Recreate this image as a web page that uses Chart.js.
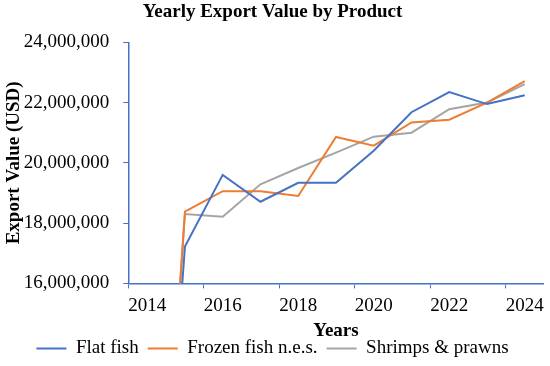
<!DOCTYPE html>
<html>
<head>
<meta charset="utf-8">
<script src="https://cdn.jsdelivr.net/npm/chart.js@4/dist/chart.umd.min.js"></script>
<style>
  html, body { margin: 0; padding: 0; background: #fff; }
  #wrap { width: 550px; height: 366px; }
</style>
</head>
<body>
<div id="wrap"><canvas id="myChart"></canvas></div>
<script>
const years = ['2014', '2015', '2016', '2017', '2018', '2019', '2020', '2021', '2022', '2023', '2024'];
const flatFish = [0, 17220000, 19600000, 18710000, 19340000, 19340000, 20400000, 21680000, 22350000, 21950000, 22240000];
const frozenFish = [0, 18380000, 19060000, 19060000, 18900000, 20860000, 20570000, 21340000, 21430000, 22000000, 22710000];
const shrimps = [0, 18300000, 18210000, 19290000, 19830000, 20340000, 20870000, 21000000, 21780000, 22000000, 22610000];
const yTicks = [16000000, 18000000, 20000000, 22000000, 24000000];

const axisBlue = '#4472C4';
const serif = 'Liberation Serif';

const ctx = document.getElementById('myChart').getContext('2d');

function series(label, data, color) {
    return {
        label: label,
        data: data,
        borderColor: color,
        backgroundColor: color,
        borderWidth: 2,
        pointRadius: 0,
        pointHoverRadius: 0,
        tension: 0
    };
}

new Chart(ctx, {
    type: 'line',
    data: {
        labels: years,
        datasets: [
            series('Flat fish', flatFish, '#4472C4'),
            series('Frozen fish n.e.s.', frozenFish, '#ED7D31'),
            series('Shrimps & prawns', shrimps, '#A5A5A5')
        ]
    },
    options: {
        responsive: true,
        maintainAspectRatio: false,
        animation: false,
        layout: { padding: { left: 0, right: 5, top: 0, bottom: -2 } },
        plugins: {
            title: {
                display: true,
                text: 'Yearly Export Value by Product',
                color: '#000',
                font: { family: serif, size: 19, weight: 'bold' },
                padding: { top: 1, bottom: 18.5 }
            },
            legend: {
                position: 'bottom',
                labels: {
                    color: '#000',
                    font: { family: serif, size: 19 },
                    usePointStyle: true,
                    pointStyle: 'line',
                    pointStyleWidth: 30,
                    padding: 9
                }
            },
            tooltip: { enabled: false }
        },
        scales: {
            x: {
                offset: true,
                grid: {
                    offset: true,
                    drawOnChartArea: false,
                    tickLength: 5,
                    tickColor: c => (c.index % 2 === 0 ? axisBlue : 'transparent')
                },
                border: { color: axisBlue, width: 1.5 },
                ticks: {
                    autoSkip: false,
                    maxRotation: 0,
                    color: '#000',
                    padding: 6,
                    font: { family: serif, size: 19 },
                    callback: function (val, i) {
                        return i % 2 === 0 ? this.getLabelForValue(val) : '';
                    }
                },
                title: {
                    display: true,
                    text: 'Years',
                    color: '#000',
                    font: { family: serif, size: 19, weight: 'bold' },
                    padding: { top: -4, bottom: -12 }
                }
            },
            y: {
                min: yTicks[0],
                max: yTicks[yTicks.length - 1],
                grid: {
                    drawOnChartArea: false,
                    tickLength: 5,
                    tickColor: axisBlue
                },
                border: { color: axisBlue, width: 1.5 },
                afterBuildTicks: axis => {
                    axis.ticks = yTicks.map(v => ({ value: v }));
                },
                ticks: {
                    color: '#000',
                    padding: 14,
                    font: { family: serif, size: 19 },
                    callback: v => v.toLocaleString('en-US')
                },
                title: {
                    display: true,
                    text: 'Export Value (USD)',
                    color: '#000',
                    font: { family: serif, size: 19, weight: 'bold' },
                    padding: { top: 3, bottom: -16 }
                }
            }
        }
    }
});
</script>
</body>
</html>
